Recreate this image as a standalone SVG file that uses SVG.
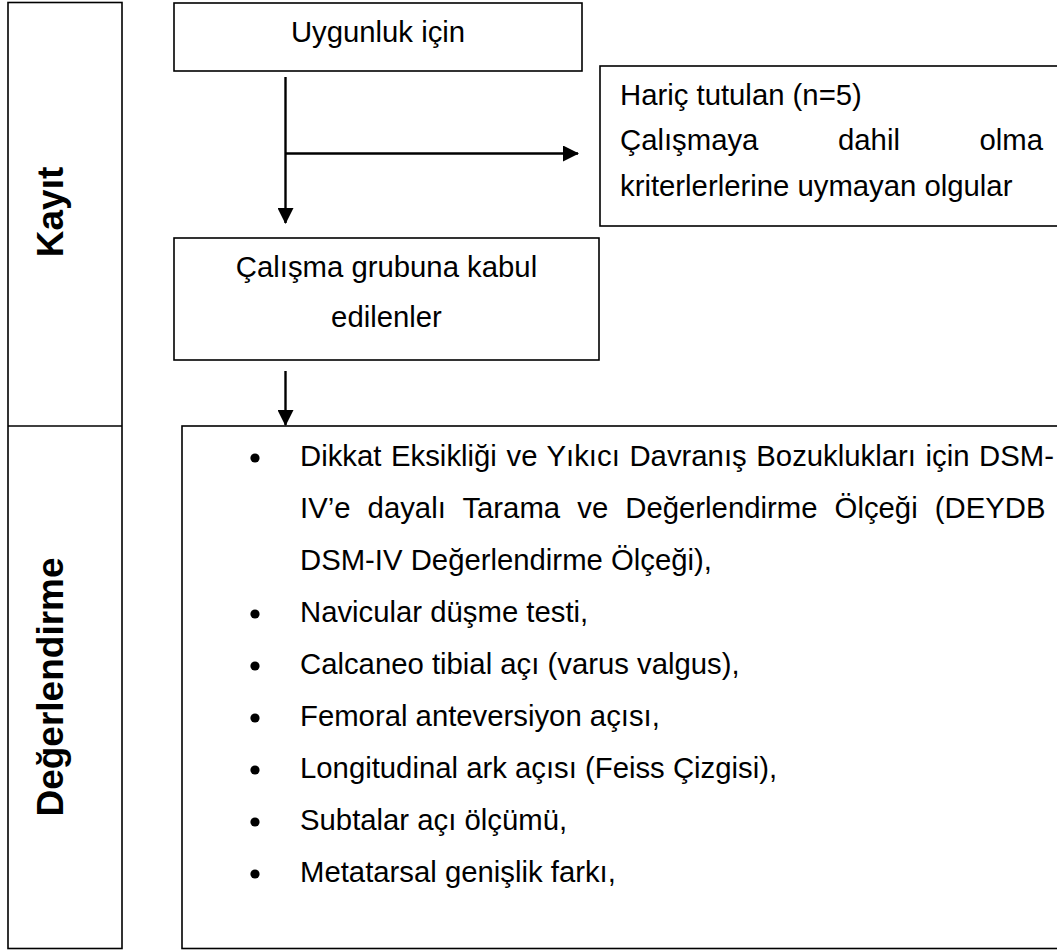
<svg xmlns="http://www.w3.org/2000/svg" width="1057" height="950" viewBox="0 0 1057 950">
<style>
  .box { fill: #fff; stroke: #000; stroke-width: 1.6; }
  .t { font-family: "Liberation Sans", Arial, sans-serif; font-size: 29.3px; fill: #000; }
  .lbl { font-family: "Liberation Sans", Arial, sans-serif; font-size: 37px; font-weight: bold; fill: #000; }
  .conn { stroke: #000; stroke-width: 2.4; fill: none; }
  .bul { fill: #000; }
</style>
<defs>
  <marker id="ah" markerUnits="userSpaceOnUse" markerWidth="16" markerHeight="16" viewBox="0 0 16 16" refX="15" refY="8" orient="auto">
    <path d="M0,0 L16,8 L0,16 Z" fill="#000"/>
  </marker>
</defs>

<g id="phase-column">
  <rect class="box" x="8" y="2.5" width="114" height="946"/>
  <line x1="8" y1="426" x2="122" y2="426" stroke="#000" stroke-width="1.6"/>
  <text class="lbl" x="63" y="212" text-anchor="middle" transform="rotate(-90 63 212)">Kayıt</text>
  <text class="lbl" x="63" y="687" text-anchor="middle" transform="rotate(-90 63 687)">Değerlendirme</text>
</g>

<g id="node-uygunluk">
  <rect class="box" x="174" y="3" width="408" height="68"/>
  <text class="t" x="378" y="42" text-anchor="middle">Uygunluk için</text>
</g>

<g id="node-haric">
  <rect class="box" x="600" y="66" width="480" height="160"/>
  <text class="t" x="620" y="105">Hariç tutulan (n=5)</text>
  <text class="t" x="620" y="150">Çalışmaya</text>
  <text class="t" x="838" y="150">dahil</text>
  <text class="t" x="1043" y="150" text-anchor="end">olma</text>
  <text class="t" x="620" y="196">kriterlerlerine uymayan olgular</text>
</g>

<g id="node-kabul">
  <rect class="box" x="174" y="238" width="425" height="122"/>
  <text class="t" x="386.5" y="277" text-anchor="middle">Çalışma grubuna kabul</text>
  <text class="t" x="386.5" y="327" text-anchor="middle">edilenler</text>
</g>

<g id="node-degerlendirme">
  <rect class="box" x="182" y="426" width="900" height="522.5"/>
  <circle class="bul" cx="255" cy="458" r="4.6"/>
  <text class="t" x="300" y="466" word-spacing="1.5">Dikkat Eksikliği ve Yıkıcı Davranış Bozuklukları için DSM-</text>
  <text class="t" x="300" y="518" word-spacing="9">IV’e dayalı Tarama ve Değerlendirme Ölçeği (DEYDB</text>
  <text class="t" x="300" y="570">DSM-IV Değerlendirme Ölçeği),</text>
  <circle class="bul" cx="255" cy="614" r="4.6"/>
  <text class="t" x="300" y="622">Navicular düşme testi,</text>
  <circle class="bul" cx="255" cy="666" r="4.6"/>
  <text class="t" x="300" y="674">Calcaneo tibial açı (varus valgus),</text>
  <circle class="bul" cx="255" cy="718" r="4.6"/>
  <text class="t" x="300" y="726">Femoral anteversiyon açısı,</text>
  <circle class="bul" cx="255" cy="770" r="4.6"/>
  <text class="t" x="300" y="778">Longitudinal ark açısı (Feiss Çizgisi),</text>
  <circle class="bul" cx="255" cy="822" r="4.6"/>
  <text class="t" x="300" y="830">Subtalar açı ölçümü,</text>
  <circle class="bul" cx="255" cy="874" r="4.6"/>
  <text class="t" x="300" y="882">Metatarsal genişlik farkı,</text>
</g>

<g id="connectors">
  <line class="conn" x1="285.5" y1="77" x2="285.5" y2="223" marker-end="url(#ah)"/>
  <line class="conn" x1="285.5" y1="153.5" x2="578" y2="153.5" marker-end="url(#ah)"/>
  <line class="conn" x1="285.5" y1="371" x2="285.5" y2="425" marker-end="url(#ah)"/>
</g>
</svg>
